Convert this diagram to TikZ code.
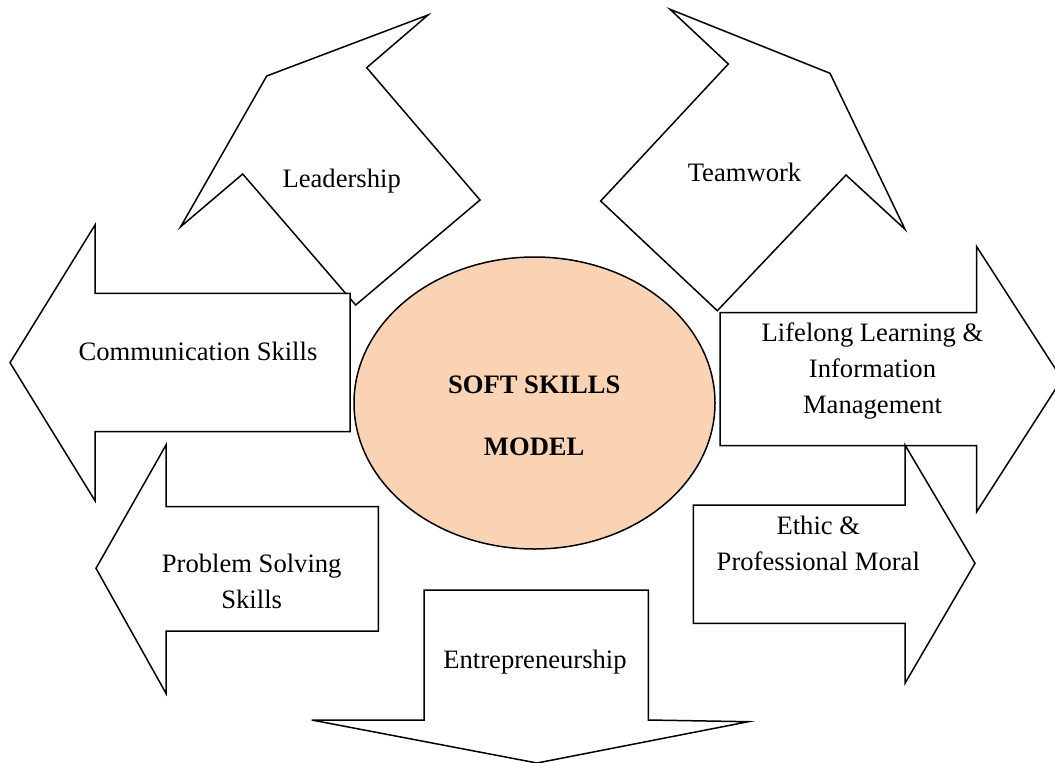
\documentclass[tikz,border=0pt]{standalone}
\usepackage{fontspec}
\setmainfont{Liberation Serif}
\usetikzlibrary{shapes.geometric}
\definecolor{peach}{HTML}{FAD3B4}

\begin{document}
\begin{tikzpicture}[x=0.5pt,y=-0.5pt,font=\fontsize{13.3}{18}\selectfont,
  blockarrow/.style={draw,fill=white,line width=0.75pt,line join=miter},
  lbl/.style={align=center,inner sep=0pt},
  core/.style={ellipse,draw,fill=peach,line width=0.75pt,minimum width=180.5pt,minimum height=146pt,inner sep=0pt}]
\useasboundingbox (0,0) rectangle (1055,762);
\clip (0,0) rectangle (1055,762);
% tilted arrows on top
\draw[blockarrow] (266.7,76) -- (428,15) -- (366.7,67.7) -- (480,200) -- (355.7,305) -- (242.7,174) -- (180.7,226.7) -- cycle;
\draw[blockarrow] (670,9.3) -- (830,73.3) -- (905,229.3) -- (846,175) -- (717.3,310.7) -- (600.7,201) -- (728.3,64) -- cycle;
% left arrows
\draw[blockarrow] (10,362.7) -- (95,225) -- (95,293.3) -- (350,293.3) -- (350,431.7) -- (95,431.7) -- (95,500.7) -- cycle;
\draw[blockarrow] (96,568.3) -- (166,445) -- (166,506.7) -- (378.3,506.7) -- (378.3,631) -- (166,631) -- (166,693.3) -- cycle;
% right arrows
\draw[blockarrow] (720,312.7) -- (976.7,312.7) -- (976.7,246.7) -- (1062,379) -- (976.7,511.7) -- (976.7,445.7) -- (720,445.7) -- cycle;
\draw[blockarrow] (693.3,505) -- (905,505) -- (905,445) -- (975,563.3) -- (905,683.3) -- (905,623.3) -- (693.3,623.3) -- cycle;
% bottom arrow
\draw[blockarrow] (424,590) -- (648.3,590) -- (648.3,720) -- (748.3,721.7) -- (537,763) -- (311.7,720) -- (424,720) -- cycle;
% centre
\node[core] (model) at (534.5,403) {};
\node[lbl,font=\fontsize{13.3}{18}\selectfont\bfseries] (title) at (534.2,416) {SOFT SKILLS\\[13pt]MODEL};
% labels
\node[lbl] (lead) at (341.7,181) {Leadership};
\node[lbl] (team) at (744.5,172.5) {Teamwork};
\node[lbl] (comm) at (198,351.7) {Communication Skills};
\node[lbl] (prob) at (251.7,581) {Problem Solving\\Skills};
\node[lbl] (life) at (872.5,371) {Lifelong Learning \&\\Information\\Management};
\node[lbl] (ethic) at (818.3,543.3) {Ethic \&\\Professional Moral};
\node[lbl] (entre) at (535,662.5) {Entrepreneurship};
\end{tikzpicture}
\end{document}
